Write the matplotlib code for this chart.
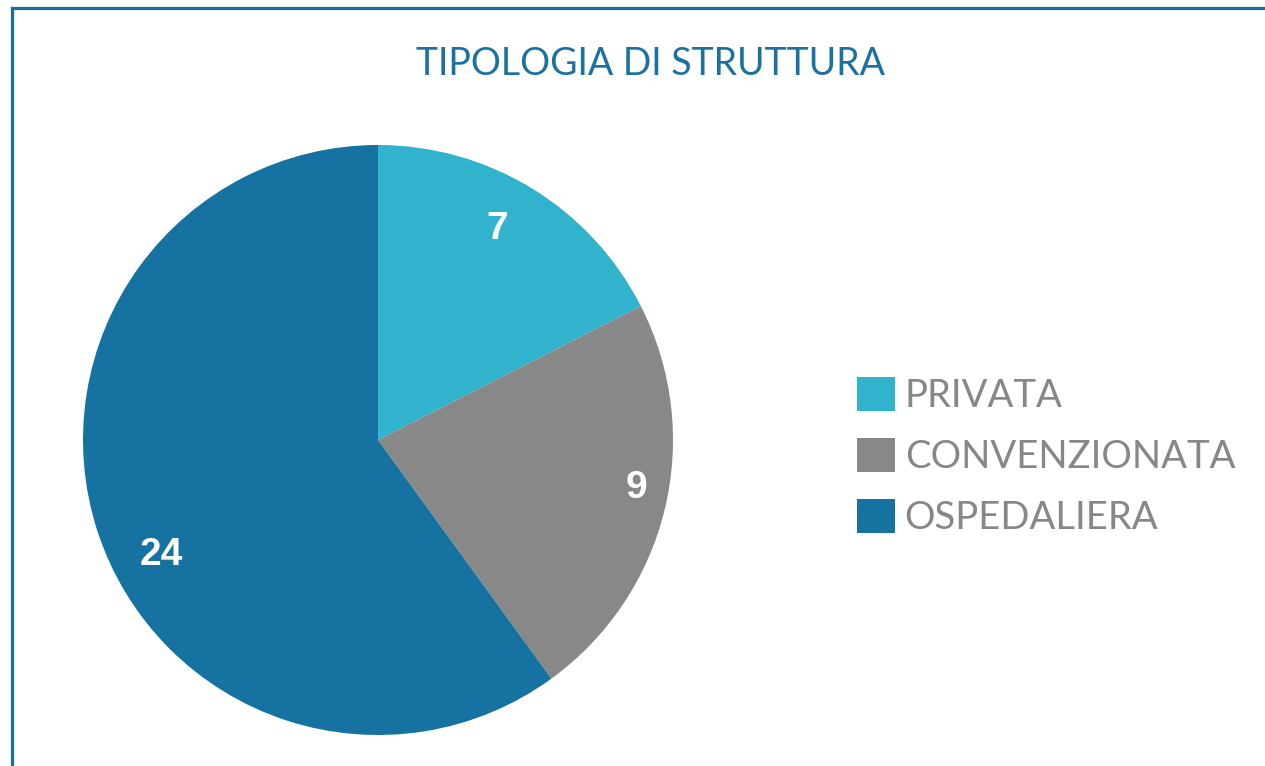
import numpy as np
import matplotlib.pyplot as plt
from matplotlib.lines import Line2D

categories = ["PRIVATA", "CONVENZIONATA", "OSPEDALIERA"]
values = [7, 9, 24]
colors = ["#31b3ce", "#888888", "#1572a1"]
title = "TIPOLOGIA DI STRUTTURA"

fig = plt.figure(figsize=(12.65, 7.66), dpi=100)
fig.patch.set_facecolor("white")

# frame lines on top and left
fig.add_artist(Line2D([12 / 1265, 1], [758 / 766, 758 / 766], color="#1570a0", lw=2.3))
fig.add_artist(Line2D([12 / 1265, 12 / 1265], [0, 758 / 766], color="#1570a0", lw=2.3))

fig.text(651 / 1265, 1 - 64 / 766, title, ha="center", va="center",
         fontsize=27, color="#1a72a3", family="Lato")

ax = fig.add_axes([83 / 1265, 31 / 766, 590 / 1265, 590 / 766])
wedges, texts, autotexts = ax.pie(values, colors=colors, startangle=90, counterclock=False,
                                  radius=1, autopct=lambda p: f"{p * sum(values) / 100:.0f}",
                                  pctdistance=0.84,
                                  textprops=dict(color="white", fontsize=28, weight="bold",
                                                 family="Liberation Sans"))
# labels sit a bit off the middle of each wedge in the original
shift = [2, 3, 10]
dist = [0.82, 0.89, 0.83]
for w, t, s, d in zip(wedges, autotexts, shift, dist):
    a = np.deg2rad((w.theta1 + w.theta2) / 2 + s)
    t.set_position((d * np.cos(a), d * np.sin(a)))

ax.set_xlim(-1, 1)
ax.set_ylim(-1, 1)
ax.set_aspect("equal")
ax.axis("off")

leg = fig.legend(wedges, categories, loc="upper left", bbox_to_anchor=(857 / 1265, 1 - 377 / 766),
                 frameon=False, prop=dict(family="Lato", size=27.5),
                 handlelength=1.0, handleheight=1.0, handletextpad=0.25, labelspacing=0.62,
                 borderpad=0, borderaxespad=0)
for t in leg.get_texts():
    t.set_color("#86878b")

fig.savefig("out.png", dpi=100)
